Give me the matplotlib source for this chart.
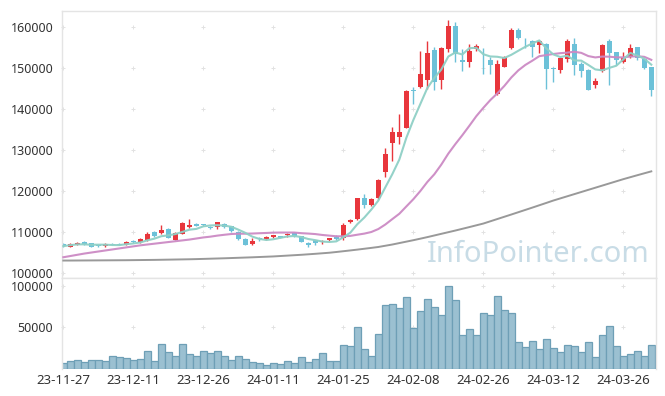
import matplotlib
matplotlib.use('Agg')
import matplotlib.pyplot as plt
import numpy as np
import pandas as pd

# ---- data ----
opens = [107100, 106500, 107000, 107600, 107300, 106800, 106600, 107100, 107100, 107000,
         107900, 107500, 108000, 110000, 109800, 110800, 108200, 109600, 111300, 112000,
         111900, 111300, 111200, 112000, 111400, 110100, 108400, 107100, 108600, 108300,
         108800, 109000, 109200, 109900, 109000, 107300, 108100, 107500, 108000, 108800,
         108500, 112400, 113100, 118200, 116600, 118200, 124700, 131600, 133200, 135400,
         144500, 145300, 147000, 154300, 147000, 154500, 160200, 151900, 151300, 154500,
         152400, 151900, 143600, 150300, 154700, 159200, 155600, 156400, 155500, 155800,
         149900, 149500, 152100, 155900, 150900, 149500, 145800, 149100, 156500, 153800,
         151300, 152700, 155000, 152100, 150100]
highs = [107300, 107300, 107600, 107800, 107400, 107000, 107400, 107300, 107300, 107800,
         108200, 108500, 110100, 110200, 111800, 110900, 110000, 112400, 113100, 112200,
         112100, 111500, 112600, 112200, 111500, 110200, 108500, 108500, 108800, 109000,
         109300, 109100, 109800, 110000, 109100, 107500, 108200, 108000, 108600, 109400,
         112300, 113200, 118300, 119400, 118300, 122900, 130400, 135500, 138700, 144500,
         145400, 154200, 156600, 155000, 155100, 161600, 161200, 154500, 155800, 155900,
         154800, 152700, 152000, 152900, 159600, 159600, 157200, 156800, 156800, 156000,
         150100, 152500, 156900, 157200, 151500, 149600, 147400, 155900, 156900, 153900,
         153900, 155800, 155100, 152200, 150200]
lows = [106400, 106400, 106900, 107000, 106400, 106500, 106300, 106800, 106800, 106900,
        107400, 107400, 107900, 108900, 109600, 108600, 108100, 109500, 111100, 111400,
        111600, 110700, 110800, 111000, 110000, 108200, 106900, 107000, 107800, 108200,
        108600, 108600, 108800, 108900, 107500, 106400, 106900, 107200, 107900, 108100,
        108200, 112200, 113000, 116000, 116400, 118100, 123400, 127200, 131500, 135300,
        141200, 145000, 144800, 144600, 144800, 153900, 151300, 149100, 150100, 154200,
        148500, 148500, 143400, 150100, 154500, 157000, 154700, 152700, 153500, 144800,
        146600, 148700, 151500, 148200, 147800, 144500, 145200, 149000, 145800, 150700,
        151200, 152300, 151900, 149800, 143100]
closes = [106600, 107100, 107400, 107100, 106500, 106700, 107100, 107000, 107000, 107600,
          107600, 108300, 109600, 109000, 110600, 108700, 109800, 112200, 111700, 111600,
          111800, 110900, 112500, 111200, 110200, 108300, 107000, 107900, 108400, 108900,
          109200, 108700, 109600, 109000, 107600, 106800, 107300, 107900, 108500, 108300,
          111800, 112900, 118200, 116600, 118000, 122700, 129000, 134300, 134300, 144400,
          144400, 148500, 153700, 146600, 154700, 160200, 153400, 151300, 154200, 155300,
          152300, 150700, 150900, 152700, 159200, 157200, 155500, 155000, 156400, 149600,
          149800, 152300, 156600, 150700, 149300, 144600, 146800, 155500, 153700, 151900,
          152300, 154700, 152300, 149900, 144600]
volumes = [6450, 9270, 10480, 8060, 10480, 10480, 9270, 14900, 14100, 12900,
           10480, 11280, 21360, 9270, 29820, 20150, 15300, 29820, 17730, 15300,
           21360, 18940, 21360, 15300, 10480, 15300, 11690, 8060, 6450, 4030,
           6850, 5640, 9270, 6850, 14100, 8060, 11690, 18940, 9270, 9270,
           28210, 27000, 49970, 23370, 14910, 41510, 76970, 77780, 72940, 86240,
           48760, 69320, 83820, 74150, 64480, 99940, 82610, 40300, 47550, 40300,
           66900, 64480, 87450, 70530, 66900, 31840, 25790, 33050, 23370, 35460,
           24580, 19750, 28210, 27000, 19750, 31840, 13700, 40300, 51180, 27000,
           14910, 17330, 20960, 14910, 28210]
# 20-day average for the first bars (needs earlier closes)
ma20_head = [103900, 104200, 104500, 104800, 105050, 105300, 105550, 105800, 106050, 106300,
             106550, 106800, 107000, 107200, 107400, 107600, 107800, 108000, 108200]
# long (120-day) moving average
ma120 = [103100, 103100, 103110, 103120, 103130, 103140, 103150, 103160, 103170, 103180,
         103200, 103220, 103240, 103260, 103290, 103320, 103350, 103380, 103410, 103450,
         103500, 103550, 103600, 103650, 103710, 103770, 103830, 103890, 103960, 104030,
         104100, 104200, 104300, 104400, 104500, 104620, 104740, 104870, 105000, 105180,
         105370, 105560, 105760, 105970, 106180, 106400, 106700, 107000, 107350, 107700,
         108050, 108420, 108800, 109200, 109600, 110000, 110400, 110820, 111240, 111670,
         112100, 112650, 113200, 113750, 114300, 114860, 115420, 115980, 116550, 117120,
         117700, 118220, 118740, 119260, 119780, 120300, 120820, 121340, 121860, 122380,
         122900, 123380, 123860, 124330, 124800]
tick_labels = ['23-11-27', '23-12-11', '23-12-26', '24-01-11', '24-01-25',
               '24-02-08', '24-02-26', '24-03-12', '24-03-26']
price_ticks = [100000, 110000, 120000, 130000, 140000, 150000, 160000]
volume_ticks = [50000, 100000]
watermark = 'InfoPointer.com'

# ---- styling ----
plt.rcParams['font.family'] = ['Noto Sans', 'DejaVu Sans']
UP = '#e8363c'
DOWN = '#6cc1d8'
TXT = '#333333'
SPINE = '#e4e4e4'
PLUS = '#e2e2e2'

W, H = 665, 396
fig = plt.figure(figsize=(W / 100, H / 100), dpi=100)
L, R = 61.5, 655.5
ax = fig.add_axes([L / W, 1 - 278.3 / H, (R - L) / W, (278.3 - 10.7) / H])
axv = fig.add_axes([L / W, 1 - 368.6 / H, (R - L) / W, (368.6 - 278.3) / H])

n = len(closes)
x = np.arange(n)
o = np.array(opens, float)
c = np.array(closes, float)
hi = np.array(highs, float)
lo = np.array(lows, float)
up = c > o
colors = np.where(up, UP, DOWN)

tick_pos = np.arange(0, 10 * len(tick_labels), 10)

# grid plus markers
for yt in price_ticks:
    ax.plot(tick_pos, [yt] * len(tick_pos), linestyle='none', marker='+',
            ms=3, mew=0.7, color=PLUS, zorder=0.5, clip_on=False)
for yt in volume_ticks:
    axv.plot(tick_pos, [yt] * len(tick_pos), linestyle='none', marker='+',
             ms=3, mew=0.7, color=PLUS, zorder=0.5, clip_on=False)

# watermark
ax.text(0.802, 0.062, watermark, transform=ax.transAxes, ha='center', va='baseline',
        fontsize=21, color='#c8dce6', zorder=0.8)

# candles
ax.vlines(x, lo, hi, colors=colors, linewidth=1.0, zorder=2)
body_h = np.maximum(np.abs(c - o), 130)
ax.bar(x, body_h, bottom=np.minimum(o, c), width=0.7, color=colors, linewidth=0, zorder=2.1)

# moving averages
s = pd.Series(c)
ma5 = s.rolling(5, min_periods=1).mean().values
ma20 = s.rolling(20).mean().values
ma20[:len(ma20_head)] = ma20_head
ax.plot(x, ma120, color='#999999', lw=1.4, zorder=3)
ax.plot(x, ma20, color='#cc8ac4', lw=1.5, alpha=0.95, zorder=3)
ax.plot(x, ma5, color='#8fd0c6', lw=1.5, alpha=0.95, zorder=3.1)

# volume
axv.bar(x, volumes, width=1.0, color='#9bc0d1', edgecolor='#6e9fb6', linewidth=0.9, zorder=2)

# axes settings
xl = (-0.26, 84.6)
ax.set_xlim(*xl)
axv.set_xlim(*xl)
ax.set_ylim(98780, 163890)
axv.set_ylim(0, 109300)

ax.set_yticks(price_ticks)
ax.set_yticklabels([str(v) for v in price_ticks])
axv.set_yticks(volume_ticks)
axv.set_yticklabels([str(v) for v in volume_ticks])
ax.set_xticks(tick_pos)
ax.set_xticklabels([])
axv.set_xticks(tick_pos)
axv.set_xticklabels(tick_labels)

for a in (ax, axv):
    a.tick_params(axis='both', length=0, labelsize=9, colors=TXT, pad=6)
    for sp in a.spines.values():
        sp.set_color(SPINE)
        sp.set_linewidth(1.0)
axv.spines['bottom'].set_visible(False)
axv.tick_params(axis='x', pad=4, labelsize=9.5)

fig.savefig('out.png', dpi=100, facecolor='white')
